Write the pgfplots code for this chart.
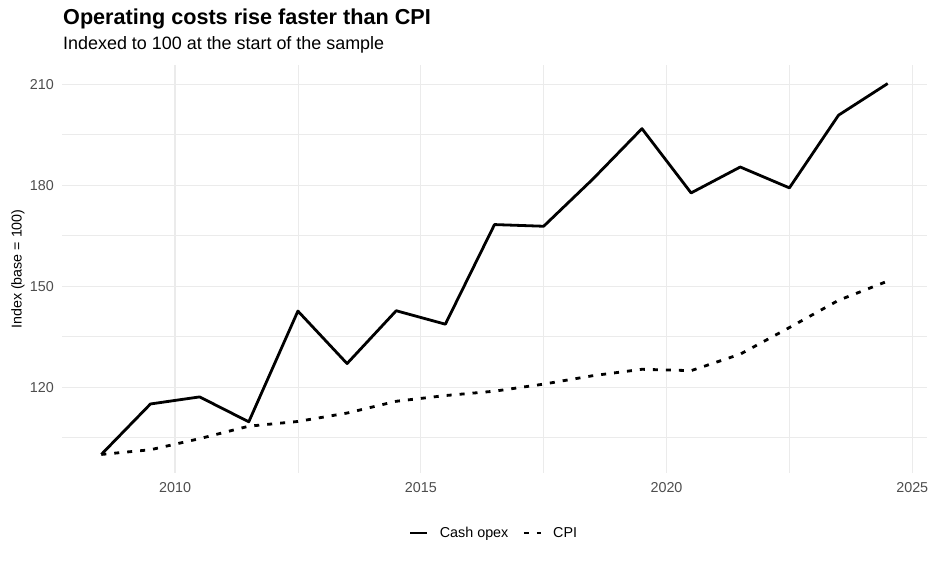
\documentclass[border=0pt]{standalone}
\usepackage{fontspec}
\setmainfont{Liberation Sans}
\usepackage{pgfplots}
\pgfplotsset{compat=1.18}
\definecolor{tickgray}{RGB}{77,77,77}
\definecolor{gridgray}{RGB}{235,235,235}
\begin{document}
\begin{tikzpicture}
\path[use as bounding box] (0,0) rectangle (936bp,562bp);
\begin{axis}[
  at={(62bp,89bp)}, anchor=south west,
  scale only axis, width=865bp, height=408bp,
  xmin=2007.7, xmax=2025.3, ymin=94.49, ymax=215.71,
  xtick={2010,2015,2020,2025}, xticklabels={2010,2015,2020,2025},
  ytick={120,150,180,210}, yticklabels={120,150,180,210},
  minor xtick={2012.5,2017.5,2022.5}, minor ytick={105,135,165,195},
  grid=both,
  major grid style={gridgray, line width=1.1bp},
  minor grid style={gridgray, line width=0.55bp},
  axis line style={draw=none},
  major tick length=0pt, minor tick length=0pt,
  tick style={draw=none},
  ticklabel style={font=\fontsize{14.4}{17}\selectfont, text=tickgray, inner sep=0pt},
  xticklabel style={anchor=north, yshift=-9bp},
  yticklabel style={anchor=east, xshift=-8bp},
  legend style={at={(0.4995,-0.147)}, anchor=center, draw=none, fill=none,
    legend columns=-1, font=\fontsize{14.4}{17}\selectfont,
    /tikz/every odd column/.append style={column sep=9bp},
    /tikz/every even column/.append style={column sep=12bp}},
  legend cell align=left,
  legend image code/.code={\draw[#1] (0bp,0bp) -- (17bp,0bp);},
]
\addplot[black, line width=2.8bp, line join=round] coordinates {
(2008.5,100.0) (2009.5,115.0) (2010.5,117.1) (2011.5,109.7) (2012.5,142.6)
(2013.5,127.0) (2014.5,142.7) (2015.5,138.7) (2016.5,168.3) (2017.5,167.8)
(2018.5,181.8) (2019.5,196.8) (2020.5,177.7) (2021.5,185.4) (2022.5,179.2)
(2023.5,200.8) (2024.5,210.2)
};
\addlegendentry{Cash opex}
\addplot[black, line width=2.8bp, dash pattern=on 5bp off 8bp] coordinates {
(2008.5,100.0) (2009.5,101.4) (2010.5,104.7) (2011.5,108.4) (2012.5,109.8)
(2013.5,112.3) (2014.5,115.8) (2015.5,117.5) (2016.5,118.8) (2017.5,120.9)
(2018.5,123.4) (2019.5,125.3) (2020.5,124.9) (2021.5,129.8) (2022.5,137.7)
(2023.5,145.8) (2024.5,151.5)
};
\addlegendentry{CPI}
\end{axis}
\node[anchor=base west, inner sep=0pt] at (63bp,537bp) {\fontsize{21.7}{26}\selectfont\bfseries Operating costs rise faster than CPI};
\node[anchor=base west, inner sep=0pt] at (63bp,512bp) {\fontsize{18}{22}\selectfont Indexed to 100 at the start of the sample};
\node[rotate=90, inner sep=0pt] at (18bp,293bp) {\fontsize{14.3}{17}\selectfont Index (base = 100)};
\end{tikzpicture}
\end{document}
